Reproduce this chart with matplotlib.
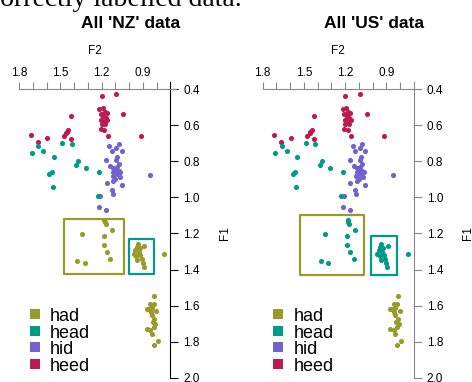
import numpy as np
import matplotlib
matplotlib.use("Agg")
from matplotlib import pyplot as plt
from matplotlib.patches import Rectangle

plt.rcParams['font.family'] = ['Liberation Sans', 'DejaVu Sans']

vowels = ['had', 'head', 'hid', 'heed']
colors = {'had': '#989a2c', 'head': '#009a88', 'hid': '#7461d0', 'heed': '#bd1a50'}

# F2 / F1 values
heed_f2 = [1.199, 1.092, 1.425, 1.043, 1.216, 1.192, 1.179, 1.162, 1.206, 1.187, 1.170, 1.204,
           1.160, 1.184, 1.199, 1.175, 1.206, 1.182, 1.157, 1.717, 1.666, 1.595, 1.474, 1.459,
           1.442, 1.425, 1.454, 0.914]
heed_f1 = [0.439, 0.428, 0.549, 0.540, 0.512, 0.503, 0.527, 0.531, 0.536, 0.551, 0.559, 0.570,
           0.573, 0.583, 0.596, 0.592, 0.620, 0.629, 0.661, 0.657, 0.696, 0.670, 0.659, 0.644,
           0.626, 0.676, 0.638, 0.659]

hid_f2 = [1.143, 1.077, 1.094, 1.126, 1.053, 1.167, 1.085, 1.094, 1.138, 1.114, 1.089, 1.077,
          1.102, 1.065, 1.089, 1.121, 1.162, 1.114, 1.053, 1.126, 1.119, 1.211, 1.216, 1.167,
          0.851, 1.077, 1.114, 1.070, 1.102]
hid_f1 = [0.715, 0.704, 0.726, 0.746, 0.745, 0.791, 0.774, 0.793, 0.825, 0.838, 0.830, 0.853,
          0.849, 0.862, 0.871, 0.880, 0.918, 0.912, 0.931, 0.960, 0.983, 0.992, 1.054, 1.072,
          0.875, 0.815, 0.862, 0.886, 0.899]

head_f2 = [1.661, 1.486, 1.418, 1.710, 1.625, 1.547, 1.369, 1.386, 1.313, 1.564, 1.581, 1.557,
           1.218, 1.228]
head_f1 = [0.713, 0.700, 0.704, 0.754, 0.746, 0.778, 0.797, 0.821, 0.838, 0.862, 0.871, 0.940,
           0.862, 0.993]

had_f2 = [0.817, 0.846, 0.822, 0.870, 0.834, 0.802, 0.834, 0.817, 0.827, 0.810, 0.870, 0.846,
          0.822, 0.834, 0.793, 0.822, 0.858, 0.841]
had_f1 = [1.545, 1.588, 1.588, 1.616, 1.612, 1.631, 1.653, 1.672, 1.690, 1.700, 1.731, 1.737,
          1.718, 1.756, 1.793, 1.817, 1.620, 1.635]

# tokens that 'NZ' calls had and 'US' calls head
mid_f2 = [1.182, 1.177, 1.172, 1.126, 1.345, 1.184, 1.184, 1.162, 1.138, 1.377, 1.325,
          0.936, 0.890, 0.956, 0.968, 0.931, 0.919, 0.948, 0.907, 0.939, 0.900, 0.895, 0.924,
          0.943, 0.744]
mid_f1 = [1.128, 1.136, 1.150, 1.182, 1.201, 1.216, 1.262, 1.303, 1.342, 1.352, 1.361,
          1.257, 1.268, 1.290, 1.312, 1.303, 1.318, 1.327, 1.340, 1.346, 1.365, 1.383, 1.281,
          1.272, 1.312]

panels = [("All 'NZ' data", 'had', [(1.474, 1.036, 1.117, 1.426), (0.999, 0.822, 1.231, 1.426)], 'black'),
          ("All 'US' data", 'head', [(1.528, 1.061, 1.100, 1.430), (1.010, 0.822, 1.216, 1.430)], '#888888')]

fig = plt.figure(figsize=(4.72, 3.82), dpi=100)
# caption line of the page, mostly cut off at the top
fig.text(0.512, 0.9843, 'correctly labelled data.', ha='right', va='baseline',
         family='Liberation Serif', fontsize=20)

lefts = [0.0409, 0.5566]
title_x = [0.2765, 0.7924]

for i, (title, mid_lab, boxes, rcol) in enumerate(panels):
    ax = fig.add_axes([lefts[i], 0.0105, 0.3199, 0.7565])
    ax.set_xlim(1.8, 0.7)
    ax.set_ylim(2.0, 0.4)

    pts = {'heed': (heed_f2, heed_f1), 'hid': (hid_f2, hid_f1),
           'head': (head_f2, head_f1), 'had': (had_f2, had_f1)}
    for v in ['heed', 'hid', 'head', 'had']:
        x, y = pts[v]
        ax.plot(x, y, 'o', ms=3.7, mew=0, color=colors[v])
    ax.plot(mid_f2, mid_f1, 'o', ms=3.7, mew=0, color=colors[mid_lab])

    for (x0, x1, y0, y1), c in zip(boxes, ['had', 'head']):
        ax.add_patch(Rectangle((x0, y0), x1 - x0, y1 - y0, fill=False,
                               ec=colors[c], lw=1.6, joinstyle='round'))

    # legend
    for k, v in enumerate(vowels):
        yy = 1.647 + k * 0.092
        ax.plot(1.689, yy, 's', ms=6.5, mew=0, color=colors[v])
        ax.text(1.576, yy + 0.037, v, fontsize=13, va='baseline', ha='left')

    ax.spines['left'].set_visible(False)
    ax.spines['bottom'].set_visible(False)
    ax.spines['top'].set_color('#888888')
    ax.spines['top'].set_bounds(1.8, 0.656)
    ax.spines['right'].set_color(rcol)
    ax.spines['right'].set_bounds(0.36, 2.0)

    ax.xaxis.tick_top()
    ax.yaxis.tick_right()
    ax.set_xticks([1.8, 1.5, 1.2, 0.9])
    ax.set_xticklabels(['1.8', '1.5', '1.2', '0.9'])
    ax.set_xticks(np.arange(0.8, 1.85, 0.1), minor=True)
    ax.set_yticks(np.arange(0.4, 2.05, 0.2))
    ax.set_yticklabels(['%.1f' % t for t in np.arange(0.4, 2.05, 0.2)])
    ax.tick_params(axis='x', which='both', direction='out', length=5, width=0.8,
                   color='#888888', labelsize=8.5, pad=2)
    ax.tick_params(axis='y', direction='out', length=5.5, width=0.8,
                   color=rcol, labelsize=8.5, pad=4)
    ax.text(0.501, 1.1325, 'F2', transform=ax.transAxes, ha='center', va='center', fontsize=8.5)
    ax.text(1.362, 0.5, 'F1', transform=ax.transAxes, ha='center', va='center',
            rotation=90, fontsize=8.5)

    fig.text(title_x[i], 0.9267, title, ha='center', va='baseline',
             fontsize=12.5, fontweight='bold')

fig.savefig('out.png', dpi=100)
